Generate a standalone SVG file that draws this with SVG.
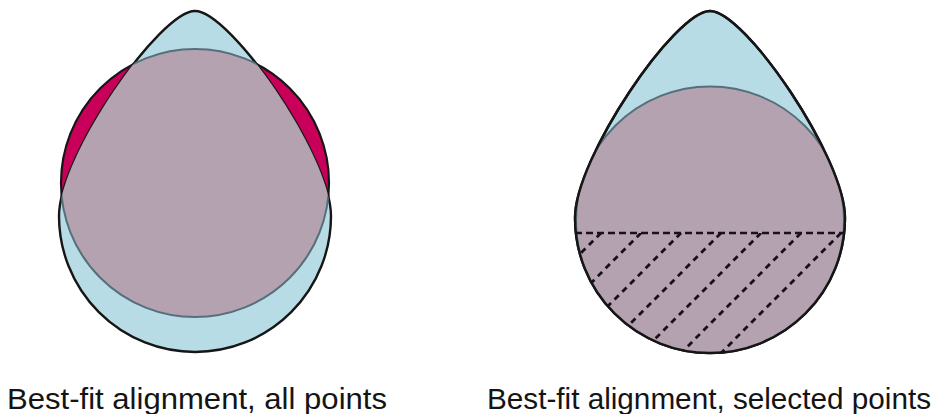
<svg xmlns="http://www.w3.org/2000/svg" width="937" height="414" viewBox="0 0 937 414">
  <style>
    .tear { fill: #b7dce6; stroke: #161616; stroke-width: 2.4; }
    .circ-out { fill: #c8005a; stroke: #161616; stroke-width: 2.2; }
    .circ-in { fill: #b4a2b0; stroke: #56707a; stroke-width: 2; }
    .dash-h { fill: none; stroke: #1a1018; stroke-width: 2.6; stroke-dasharray: 7 4; }
    .dash-d { fill: none; stroke: #1a1018; stroke-width: 2.8; stroke-dasharray: 6 5; }
    .label { font-family: "Liberation Sans", Arial, sans-serif; font-size: 29px; fill: #141414; }
  </style>
  <defs>
    <path id="tearL" d="M195,11 C160,11 59,156 59,216 A136,136 0 0 0 331,216 C331,156 230,11 195,11 Z"/>
    <path id="tearR" d="M710,11 C675,11 575,158 575,218 A135,135 0 0 0 845,218 C845,158 745,11 710,11 Z"/>
    <clipPath id="clipL"><use href="#tearL"/></clipPath>
    <clipPath id="clipR"><use href="#tearR"/></clipPath>
    <clipPath id="clipLow"><rect x="560" y="233" width="300" height="140"/></clipPath>
  </defs>
  <rect width="937" height="414" fill="#ffffff"/>

  <g id="fig-all-points">
    <circle class="circ-out" cx="195" cy="183" r="134"/>
    <use href="#tearL" class="tear"/>
    <circle class="circ-in" cx="195" cy="183" r="134" clip-path="url(#clipL)"/>
  </g>

  <g id="fig-selected-points">
    <use href="#tearR" class="tear"/>
    <circle class="circ-in" cx="710" cy="220.5" r="134" clip-path="url(#clipR)"/>
    <use href="#tearR" fill="none" stroke="#161616" stroke-width="2.4"/>
    <g clip-path="url(#clipR)">
      <g clip-path="url(#clipLow)">
        <line class="dash-d" x1="601" y1="233" x2="471" y2="363"/>
        <line class="dash-d" x1="641" y1="233" x2="511" y2="363"/>
        <line class="dash-d" x1="681" y1="233" x2="551" y2="363"/>
        <line class="dash-d" x1="721" y1="233" x2="591" y2="363"/>
        <line class="dash-d" x1="761" y1="233" x2="631" y2="363"/>
        <line class="dash-d" x1="801" y1="233" x2="671" y2="363"/>
        <line class="dash-d" x1="841" y1="233" x2="711" y2="363"/>
      </g>
    </g>
    <line class="dash-h" x1="575" y1="233" x2="845" y2="233"/>
  </g>

  <g id="labels">
    <text class="label" x="7" y="409" textLength="380" lengthAdjust="spacingAndGlyphs">Best-fit alignment, all points</text>
    <text class="label" x="487" y="409" textLength="444" lengthAdjust="spacingAndGlyphs">Best-fit alignment, selected points</text>
  </g>
</svg>
